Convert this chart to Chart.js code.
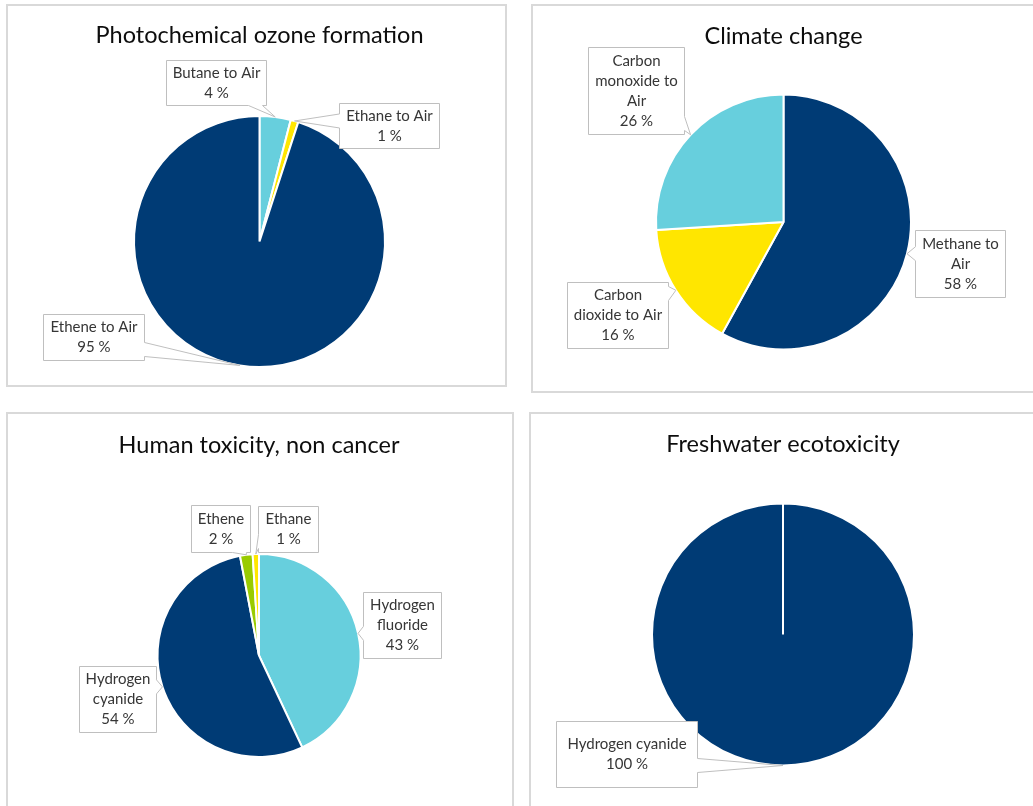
<!DOCTYPE html>
<html lang="en">
<head>
    <meta charset="UTF-8">
    <title>Emission contributions</title>
    <script src="https://cdn.jsdelivr.net/npm/chart.js"></script>
    <style>
        body {
            margin: 0;
            background-color: white;
            overflow: hidden;
            width: 1033px;
            height: 806px;
        }
        .panel {
            position: absolute;
            box-sizing: border-box;
            border: 2px solid #d9d9d9;
        }
        canvas {
            position: absolute;
        }
    </style>
</head>
<body>
    <div class="panel" style="left:6px;top:4px;width:501px;height:383px"></div>
    <div class="panel" style="left:531px;top:4px;width:520px;height:389px"></div>
    <div class="panel" style="left:6px;top:412px;width:508px;height:420px"></div>
    <div class="panel" style="left:529px;top:412px;width:520px;height:420px"></div>

    <canvas id="ozoneChart" style="left:6px;top:4px" width="501" height="383"></canvas>
    <canvas id="climateChart" style="left:531px;top:4px" width="520" height="389"></canvas>
    <canvas id="humanChart" style="left:6px;top:412px" width="508" height="420"></canvas>
    <canvas id="freshChart" style="left:529px;top:412px" width="520" height="420"></canvas>

    <script>
        // data (percent shares)
        const ozoneLabels = [["Butane to Air"], ["Ethane to Air"], ["Ethene to Air"]];
        const ozoneValues = [4, 1, 95];

        const climateLabels = [["Methane to", "Air"], ["Carbon", "dioxide to Air"], ["Carbon", "monoxide to", "Air"]];
        const climateValues = [58, 16, 26];

        const humanLabels = [["Hydrogen", "fluoride"], ["Hydrogen", "cyanide"], ["Ethene"], ["Ethane"]];
        const humanValues = [43, 54, 2, 1];

        const freshLabels = [["Hydrogen cyanide"]];
        const freshValues = [100];

        const NAVY = "#003b75";
        const LIGHTBLUE = "#67cfdd";
        const YELLOW = "#ffe600";
        const GREEN = "#99cb00";

        const FONT = "Lato, 'Open Sans', sans-serif";
        const LABEL_SIZE = 15;
        const LINE_H = 20;

        function clamp(v, lo, hi) {
            return Math.max(lo, Math.min(hi, v));
        }

        // box with a wedge pointing at (tx, ty), like the Excel callout labels
        function calloutPath(ctx, b, tx, ty) {
            const L = b[0], T = b[1], R = b[0] + b[2], B = b[1] + b[3];
            const d = { left: L - tx, right: tx - R, top: T - ty, bottom: ty - B };
            let side = "left";
            for (const k in d) if (d[k] > d[side]) side = k;
            const hw = 7;
            let c;
            ctx.beginPath();
            ctx.moveTo(L, T);
            if (side === "top") {
                c = clamp(tx, L + hw + 4, R - hw - 4);
                ctx.lineTo(c - hw, T); ctx.lineTo(tx, ty); ctx.lineTo(c + hw, T);
            }
            ctx.lineTo(R, T);
            if (side === "right") {
                c = clamp(ty, T + hw + 4, B - hw - 4);
                ctx.lineTo(R, c - hw); ctx.lineTo(tx, ty); ctx.lineTo(R, c + hw);
            }
            ctx.lineTo(R, B);
            if (side === "bottom") {
                c = clamp(tx, L + hw + 4, R - hw - 4);
                ctx.lineTo(c + hw, B); ctx.lineTo(tx, ty); ctx.lineTo(c - hw, B);
            }
            ctx.lineTo(L, B);
            if (side === "left") {
                c = clamp(ty, T + hw + 4, B - hw - 4);
                ctx.lineTo(L, c + hw); ctx.lineTo(tx, ty); ctx.lineTo(L, c - hw);
            }
            ctx.closePath();
        }

        const calloutPlugin = {
            id: "callouts",
            afterDatasetsDraw(chart, args, opts) {
                const ctx = chart.ctx;
                const meta = chart.getDatasetMeta(0);
                const values = chart.data.datasets[0].data;
                ctx.save();
                meta.data.forEach((arc, i) => {
                    const b = opts.boxes[i];
                    if (!b) return;
                    const p = arc.getProps(["x", "y", "startAngle", "endAngle", "outerRadius"], true);
                    const mid = (p.startAngle + p.endAngle) / 2;
                    const tx = p.x + Math.cos(mid) * p.outerRadius;
                    const ty = p.y + Math.sin(mid) * p.outerRadius;
                    const box = [b[0] - opts.origin.x + 0.5, b[1] - opts.origin.y + 0.5, b[2], b[3]];
                    calloutPath(ctx, box, tx, ty);
                    ctx.fillStyle = "white";
                    ctx.fill();
                    ctx.lineWidth = 1;
                    ctx.strokeStyle = "#bfbfbf";
                    ctx.stroke();

                    const lines = chart.data.labels[i].concat([values[i] + " %"]);
                    ctx.fillStyle = "#363636";
                    ctx.font = LABEL_SIZE + "px " + FONT;
                    ctx.textAlign = "center";
                    ctx.textBaseline = "middle";
                    const cx = box[0] + box[2] / 2;
                    const y0 = box[1] + box[3] / 2 - (lines.length - 1) * LINE_H / 2;
                    lines.forEach((ln, j) => ctx.fillText(ln, cx, y0 + j * LINE_H));
                });
                ctx.restore();
            }
        };

        function makePie(id, rect, title, titleY, labels, values, colors, center, radius, boxes) {
            const W = rect.w, H = rect.h;
            const cx = center.x - rect.x, cy = center.y - rect.y;
            const titleSize = 23.5;
            const titleTop = titleY - rect.y - 0.6 * titleSize;
            const titleBox = titleTop + 1.2 * titleSize;
            const chartTop = Math.max(titleBox, 2 * cy - H);
            const padBottom = H - (2 * cy - chartTop);
            const padLeft = 2 * cx > W ? 2 * cx - W : 0;
            const padRight = 2 * cx > W ? 0 : W - 2 * cx;

            return new Chart(document.getElementById(id), {
                type: "pie",
                data: {
                    labels: labels,
                    datasets: [{
                        data: values,
                        backgroundColor: colors,
                        borderColor: "white",
                        borderWidth: 2,
                        radius: radius + 1
                    }]
                },
                options: {
                    responsive: false,
                    animation: false,
                    events: [],
                    layout: { padding: { top: 0, bottom: padBottom, left: padLeft, right: padRight } },
                    plugins: {
                        legend: { display: false },
                        tooltip: { enabled: false },
                        title: {
                            display: true,
                            text: title,
                            color: "#0d0d0d",
                            font: { family: FONT, size: titleSize, weight: "normal" },
                            padding: { top: titleTop, bottom: chartTop - titleBox }
                        },
                        callouts: { boxes: boxes, origin: rect }
                    }
                },
                plugins: [calloutPlugin]
            });
        }

        makePie("ozoneChart", { x: 6, y: 4, w: 501, h: 383 }, "Photochemical ozone formation", 35,
            ozoneLabels, ozoneValues, [LIGHTBLUE, YELLOW, NAVY],
            { x: 259.5, y: 241.5 }, 124.5,
            [[166, 60, 100, 45], [339, 103, 100, 45], [43, 314, 101, 46]]);

        makePie("climateChart", { x: 531, y: 4, w: 520, h: 389 }, "Climate change", 36,
            climateLabels, climateValues, [NAVY, YELLOW, LIGHTBLUE],
            { x: 783.5, y: 222 }, 126.5,
            [[915, 230, 90, 67], [567, 282, 101, 66], [588, 47, 96, 87]]);

        makePie("humanChart", { x: 6, y: 412, w: 508, h: 420 }, "Human toxicity, non cancer", 445,
            humanLabels, humanValues, [LIGHTBLUE, NAVY, GREEN, YELLOW],
            { x: 259, y: 655.5 }, 100.5,
            [[363, 592, 78, 66], [79, 666, 77, 66], [191, 505, 59, 47], [258, 506, 60, 46]]);

        makePie("freshChart", { x: 529, y: 412, w: 520, h: 420 }, "Freshwater ecotoxicity", 444.5,
            freshLabels, freshValues, [NAVY],
            { x: 783, y: 634.5 }, 130,
            [[556, 721, 141, 66]]);
    </script>
</body>
</html>
